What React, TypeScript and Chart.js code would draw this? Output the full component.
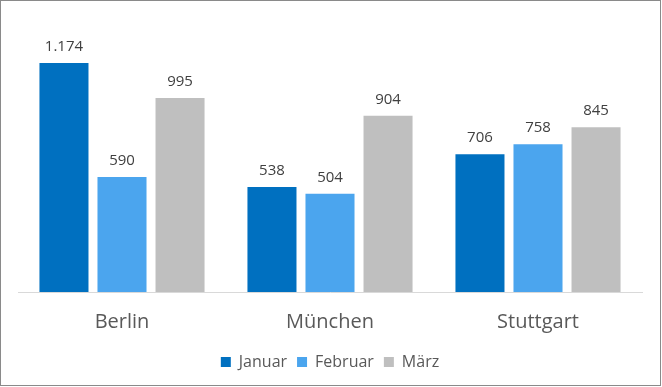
import React, { useEffect, useRef } from "react";
import { Chart, registerables } from "chart.js";

Chart.register(...registerables);

const categories = ["Berlin", "München", "Stuttgart"];
const seriesNames = ["Januar", "Februar", "März"];
const januar = [1174, 538, 706];
const februar = [590, 504, 758];
const maerz = [995, 904, 845];
const seriesColors = ["#0070C0", "#4BA5EE", "#BFBFBF"];
const yMax = 1400;

const FONT = "'Open Sans', 'Noto Sans', sans-serif";

const fmt = (v: number) => v.toLocaleString("de-DE");

const labelPlugin = {
  id: "valueLabels",
  afterDatasetsDraw(chart: any) {
    const ctx = chart.ctx;
    ctx.save();
    ctx.font = `15px ${FONT}`;
    ctx.fillStyle = "#404040";
    ctx.textAlign = "center";
    ctx.textBaseline = "alphabetic";
    chart.data.datasets.forEach((ds: any, i: number) => {
      const meta = chart.getDatasetMeta(i);
      meta.data.forEach((el: any, j: number) => {
        ctx.fillText(fmt(ds.data[j]), el.x, el.y - 12);
      });
    });
    ctx.restore();
  },
};

const borderPlugin = {
  id: "outerBorder",
  afterDraw(chart: any) {
    const ctx = chart.ctx;
    ctx.save();
    ctx.strokeStyle = "#8A8A8A";
    ctx.lineWidth = 1;
    ctx.strokeRect(0.5, 0.5, chart.width - 2, chart.height - 2);
    ctx.restore();
  },
};

export default function App() {
  const ref = useRef<HTMLCanvasElement>(null);
  useEffect(() => {
    document.body.style.margin = "0";
    const chart = new Chart(ref.current!, {
      type: "bar",
      data: {
        labels: categories,
        datasets: [januar, februar, maerz].map((d, i) => ({
          label: seriesNames[i],
          data: d,
          backgroundColor: seriesColors[i],
          categoryPercentage: 0.837,
          barPercentage: 0.845,
        })),
      },
      options: {
        responsive: false,
        animation: false,
        layout: { padding: { top: 19, left: 18, right: 20, bottom: 7 } },
        scales: {
          y: { display: false, min: 0, max: yMax },
          x: {
            grid: { display: false, drawTicks: false },
            border: { display: true, color: "#D9D9D9", width: 1 },
            ticks: { color: "#595959", font: { family: FONT, size: 20 }, padding: 18 },
            afterFit: (scale: any) => {
              scale.height = 52;
            },
          },
        },
        plugins: {
          tooltip: { enabled: false },
          legend: {
            position: "bottom",
            labels: {
              boxWidth: 10,
              boxHeight: 10,
              padding: 10,
              color: "#595959",
              font: { family: FONT, size: 16 },
            },
          },
        },
      },
      plugins: [labelPlugin, borderPlugin],
    });
    return () => chart.destroy();
  }, []);
  return (
    <div style={{ position: "fixed", left: 0, top: 0, width: 662, height: 387, background: "#fff" }}>
      <canvas ref={ref} width={662} height={387} style={{ width: 662, height: 387, display: "block" }} />
    </div>
  );
}
